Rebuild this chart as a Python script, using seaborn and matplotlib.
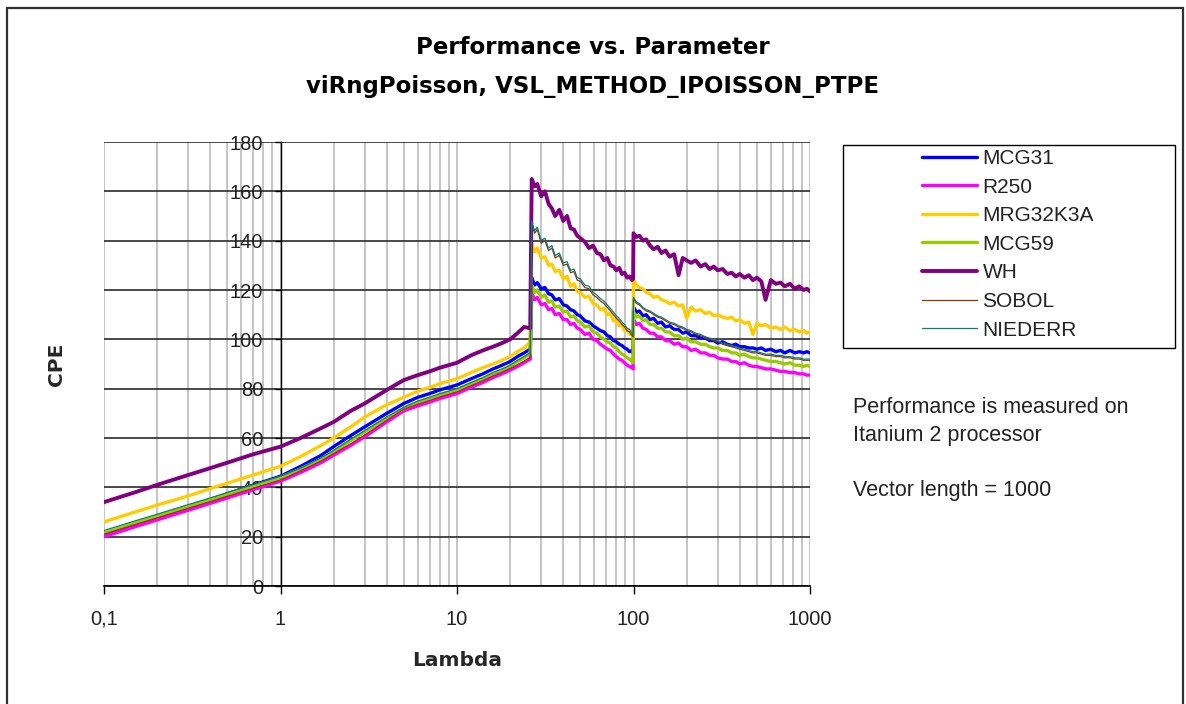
import matplotlib
matplotlib.use("Agg")
import matplotlib.pyplot as plt
from matplotlib.patches import Rectangle
from matplotlib.ticker import LogLocator, NullFormatter, FixedLocator
import seaborn as sns

# ---------------- data ----------------
LAMBDA = [0.1, 0.15, 0.2, 0.3, 0.4, 0.5, 0.7, 1, 1.3, 1.7, 2, 2.5, 3, 4, 5, 6, 7, 8, 10, 12,
          14, 16, 18, 20, 22, 24, 26,
          26.5, 27.5, 28.5, 30, 31.5, 33, 34.5, 36, 38, 40, 42, 44, 46, 48, 50, 53, 56, 59, 62, 65,
          68, 71, 74, 77, 80, 83, 86, 89, 92, 95, 98, 99.5,
          100, 104, 108, 113, 118, 124, 130, 137, 144, 152, 160, 170, 180, 190, 200, 212, 225, 240,
          255, 270, 285, 300, 320, 340, 360, 380, 400, 425, 450, 475, 500, 530, 560, 600, 640, 680,
          720, 770, 820, 870, 920, 960, 1000]

MCG31 = [21, 25, 28, 32, 35, 37.4, 40.9, 44.5, 48.5, 53, 56.5, 61, 64.5, 70, 74, 76.5, 78, 79.5,
         81.5, 84, 86, 88, 89.5, 91, 93, 94.5, 96,
         125, 122, 123, 120.5, 121, 118.5, 118, 116, 116.5, 114, 113.5, 112, 111.5, 110, 109.5,
         107.5, 107, 105.5, 104.5, 103.5, 103, 101.5, 101, 99.5, 99, 98, 97.5, 96.5, 96, 95, 95.5, 94.5,
         113, 111, 111.5, 109.5, 110, 108, 108.5, 106.5, 107, 105, 105.5, 104, 104, 102.5, 103,
         101.5, 101.5, 100.5, 100.5, 99.5, 99.5, 98.5, 99, 98, 97.5, 98, 97, 97, 96.5, 96.5, 96,
         96.5, 95.5, 96, 95, 95.5, 94.5, 95.5, 94.5, 95, 94.5, 95, 94.5]

R250 = [20, 24, 26.8, 30.7, 33.5, 35.7, 39, 42.5, 46, 50, 53, 57, 60.5, 66.5, 71, 73, 74.5, 76,
        78, 80.5, 82.5, 84.5, 86, 87.5, 89, 90.5, 92,
        119, 116, 117, 114, 114.5, 112, 112.5, 110, 110.5, 108, 108, 106, 106.5, 104.5, 104, 102,
        102.5, 100, 99.5, 98, 97, 96, 95.5, 94, 93, 92, 91.5, 90.5, 89.5, 89, 88.5, 88,
        108, 106, 106.5, 104.5, 104, 102.5, 102.5, 101, 101, 99.5, 99.5, 98, 98.5, 97, 97, 95.5,
        96, 94.5, 94.5, 93.5, 93.5, 92.5, 92, 92, 91, 91, 90, 90.5, 89.5, 89, 89, 88.5, 88, 88,
        87.5, 87, 87, 86.5, 86.5, 86, 86, 85.5, 85.5]

MRG32K3A = [26, 30, 32.8, 36.5, 39.5, 41.7, 45, 48.5, 52.5, 57, 60, 64.5, 68.5, 73.5, 76.5, 79,
            80.5, 82, 84, 86.5, 88.5, 90, 91.5, 93, 95, 96.5, 99,
            139, 135.5, 137, 133, 133.5, 130, 130.5, 127.5, 128, 124.5, 125.5, 121.5, 122.5, 119.5,
            119, 117, 117.5, 114.5, 114, 112, 112.5, 110, 110.5, 107.5, 108, 105.5, 106, 103.5,
            104, 102, 102.5, 100.5,
            124, 122, 121, 120.5, 119, 118.5, 117, 117.5, 116, 115.5, 114.5, 115, 113.5, 114,
            108.5, 113, 111.5, 112, 110.5, 111, 109.5, 110, 109, 108.5, 109, 107.5, 108, 106.5,
            107, 102, 106.5, 105.5, 106, 104.5, 105, 104, 105, 103.5, 104, 103, 103.5, 102.5, 103]

MCG59 = [21.5, 25.5, 28.3, 32.2, 35, 37.2, 40.5, 44, 47.5, 51.5, 54.5, 59, 62.5, 68, 72, 74.5,
         76, 77.5, 79.5, 82, 84, 86, 87.5, 89, 91, 92.5, 94,
         122, 119, 120, 117, 118, 115, 115.5, 113, 113.5, 111, 111.5, 109, 109.5, 107.5, 107, 105,
         105.5, 103, 102.5, 101, 100, 99, 98.5, 97, 96.5, 95, 94, 93.5, 92.5, 92, 91, 90.5,
         111, 109, 109.5, 107.5, 108, 106, 106, 104.5, 104.5, 103, 103, 101.5, 101.5, 100, 100.5,
         99, 99, 98, 98, 97, 96.5, 96.5, 95.5, 95.5, 94.5, 94.5, 93.5, 94, 93, 92.5, 92.5, 92,
         91.5, 91, 91, 90.5, 90, 90.5, 89.5, 89.5, 89, 89.5, 89]

WH = [34, 38, 41, 45, 47.8, 50, 53.4, 56.5, 60, 64, 66.5, 71, 74, 79.5, 83.5, 85.5, 87, 88.5,
      90.5, 93.5, 95.5, 97, 98.5, 100, 102.5, 105, 104.5,
      165, 162, 163, 158, 160, 155, 153, 150, 152.5, 148, 150, 145, 144.5, 142, 141, 139.5, 137,
      138, 135, 134.5, 132, 133, 130, 129.5, 128, 129, 126.5, 127, 125, 125.5, 124, 124.5,
      143, 141.5, 142, 140, 140.5, 138, 136.5, 137.5, 135, 136, 133.5, 134.5, 126, 133, 132, 131,
      132, 129.5, 130.5, 128.5, 129.5, 128, 128.5, 126.5, 127, 125.5, 126.5, 125, 126, 124, 125,
      123.5, 116, 124, 122.5, 123, 121.5, 122.5, 120.5, 121.5, 120, 120.5, 119.5]

SOBOL = [21, 24.9, 27.6, 31.5, 34.2, 36.4, 39.6, 43, 46.7, 50.7, 53.7, 57.7, 61.2, 67.2, 71.7,
         73.7, 75.2, 76.7, 78.7, 81.2, 83.2, 85.2, 86.7, 88.2, 89.7, 91.2, 92.7,
         147, 143, 144.5, 139, 140, 136, 137, 133, 134, 130, 130.5, 127, 127.5, 124, 123.5, 121,
         120.5, 118, 117, 115.5, 114.5, 113, 111.5, 110, 108.5, 107.5, 106, 105, 103.5, 103,
         101.5, 101,
         116.5, 114.5, 114, 112.5, 111.5, 111, 110, 109, 108.5, 107.5, 106.5, 106, 105, 104.5,
         103.5, 103, 102, 101.5, 100.5, 100, 99.5, 99, 98, 97.5, 97, 96.5, 96, 95.5, 95, 94.5,
         94.5, 94, 93.5, 93.5, 93, 93, 92.5, 92.5, 92, 92, 91.5, 91.5, 91.5]

NIEDERR = [22.5, 26.4, 29.1, 33, 35.7, 37.9, 41.1, 44.5, 47.8, 52, 55, 59.5, 63, 68.5, 72.5, 75,
           76.5, 78, 80, 82.5, 84.5, 86.5, 88, 89.5, 91.5, 93, 94.5,
           148, 144, 145.5, 140, 141, 137, 138, 134, 135, 131, 131.5, 128, 128.5, 125, 124.5,
           122, 121.5, 119, 118, 116.5, 115.5, 114, 112.5, 111, 109.5, 108.5, 107, 106, 104.5,
           104, 102.5, 102,
           117, 115, 114.5, 113, 112, 111.5, 110.5, 109.5, 109, 108, 107, 106.5, 105.5, 105, 104,
           103.5, 102.5, 102, 101, 100.5, 100, 99.5, 98.5, 98, 97.5, 97, 96.5, 96, 95.5, 95, 95,
           94.5, 94, 94, 93.5, 93.5, 93, 93, 92.5, 92.5, 92, 92, 92]

SERIES_NAMES = ["MCG31", "R250", "MRG32K3A", "MCG59", "WH", "SOBOL", "NIEDERR"]
SERIES_VALUES = [MCG31, R250, MRG32K3A, MCG59, WH, SOBOL, NIEDERR]
XTICKS = [0.1, 1, 10, 100, 1000]
XTICK_LABELS = ["0,1", "1", "10", "100", "1000"]
YTICKS = [0, 20, 40, 60, 80, 100, 120, 140, 160, 180]

# ---------------- style ----------------
COLORS = {"MCG31": "#0000FF", "R250": "#FF00FF", "MRG32K3A": "#FFCC00", "MCG59": "#99CC00",
          "WH": "#800080", "SOBOL": "#993300", "NIEDERR": "#008080"}
WIDTHS = {"MCG31": 2.4, "R250": 2.4, "MRG32K3A": 2.4, "MCG59": 2.4, "WH": 2.8,
          "SOBOL": 0.9, "NIEDERR": 0.9}

sns.set_style("white")
plt.rcParams["font.family"] = ["Liberation Sans", "DejaVu Sans"]

W, H = 1186, 704
fig = plt.figure(figsize=(W / 100, H / 100), dpi=100)
ax = fig.add_axes([104 / W, 1 - 586 / H, 706 / W, 444 / H])

for name, vals in zip(SERIES_NAMES, SERIES_VALUES):
    sns.lineplot(x=LAMBDA, y=vals, ax=ax, color=COLORS[name], linewidth=WIDTHS[name],
                 label=name, estimator=None, sort=False, legend=False)

ax.set_xscale("log")
ax.set_xlim(0.1, 1000)
ax.set_ylim(0, 180)
ax.xaxis.set_major_locator(FixedLocator(XTICKS))
ax.set_xticklabels(XTICK_LABELS)
ax.xaxis.set_minor_locator(LogLocator(base=10, subs=range(2, 10)))
ax.xaxis.set_minor_formatter(NullFormatter())
ax.set_yticks(YTICKS)
ax.set_yticklabels([str(v) for v in YTICKS])

ax.grid(which="both", axis="x", color="#c0c0c0", linewidth=1.3)
ax.grid(which="major", axis="y", color="#2a2a2a", linewidth=1.2)
ax.get_ygridlines()[-1].set_color("#c0c0c0")
ax.set_axisbelow(True)

for s in ("top", "right"):
    ax.spines[s].set_visible(False)
ax.spines["left"].set_position(("data", 1))
ax.spines["left"].set_color("black")
ax.spines["left"].set_linewidth(1.0)
ax.spines["left"].set_zorder(1.5)
ax.spines["bottom"].set_color("black")
ax.spines["bottom"].set_linewidth(1.2)

ax.tick_params(axis="x", which="major", direction="out", length=6, width=1, pad=11,
               labelsize=14.5, colors="black", bottom=True)
ax.tick_params(axis="x", which="minor", length=0)
ax.tick_params(axis="y", which="major", direction="out", length=4.5, width=1, pad=8,
               labelsize=14.5, colors="black", left=True)
for t in ax.get_xticklabels() + ax.get_yticklabels():
    t.set_color("#222222")
ax.set_xlabel("")
ax.set_ylabel("")

# axis titles
fig.text(457 / W, 1 - 660 / H, "Lambda", ha="center", va="center", fontsize=14.5,
         fontweight="bold", family=["DejaVu Sans"])
fig.text(57 / W, 1 - 364 / H, "CPE", ha="center", va="center", rotation=90, fontsize=14.5,
         fontweight="bold", family=["DejaVu Sans"])

# chart title
fig.text(593 / W, 1 - 47 / H, "Performance vs. Parameter", ha="center", va="center",
         fontsize=16.5, fontweight="bold", family=["DejaVu Sans"], color="black")
fig.text(593 / W, 1 - 86 / H, "viRngPoisson, VSL_METHOD_IPOISSON_PTPE", ha="center",
         va="center", fontsize=16.5, fontweight="bold", family=["DejaVu Sans"], color="black")

# legend box and legend
fig.add_artist(Rectangle((843 / W, 1 - 348 / H), 332 / W, 203 / H, transform=fig.transFigure,
                         fill=False, edgecolor="black", linewidth=1.0))
handles, labels = ax.get_legend_handles_labels()
leg = ax.legend(handles, labels, loc="upper left", bbox_to_anchor=(922 / W, 1 - 149 / H),
                bbox_transform=fig.transFigure, frameon=False, fontsize=15,
                handlelength=2.65, handletextpad=0.25, labelspacing=0.46, borderpad=0,
                borderaxespad=0)
for t in leg.get_texts():
    t.set_color("#222222")

# annotation
fig.text(853 / W, 1 - 397 / H, "Performance is measured on\nItanium 2 processor\n\nVector length = 1000",
         ha="left", va="top", fontsize=15.5, linespacing=1.42, color="#222222")

# outer chart border
fig.add_artist(Rectangle((7 / W, -0.02), 1176 / W, 1.02 - 8 / H, transform=fig.transFigure,
                         fill=False, edgecolor="#333333", linewidth=1.6))

fig.savefig("out.png", dpi=100)
